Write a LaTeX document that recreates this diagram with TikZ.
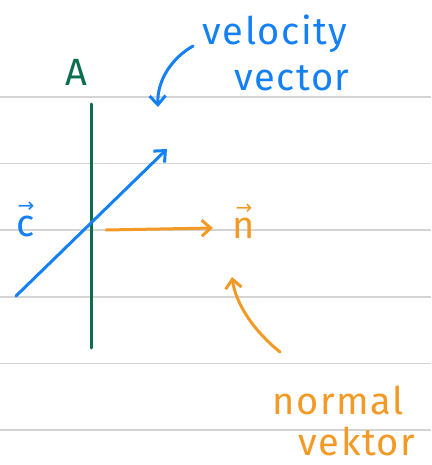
\documentclass[tikz,border=0pt]{standalone}
\usepackage{amsmath}
\usepackage{fontspec}
\setmainfont{Fira Sans}
\newfontfamily\handfont[LetterSpace=4]{Fira Sans}
\newfontfamily\arrowfont{DejaVu Sans}
\usepackage{tikz}
\usetikzlibrary{arrows.meta, positioning, calc}
\definecolor{InkBlue}{HTML}{1480F5}
\definecolor{InkGreen}{HTML}{0B6E4F}
\definecolor{InkOrange}{HTML}{F39A26}
\definecolor{RuleGray}{HTML}{D4D4D4}

% letter with a small arrow on top
\newcommand{\arrowover}[1]{\ooalign{#1\cr\hidewidth\raisebox{0.62em}{\arrowfont\fontsize{20}{20}\selectfont →}\hidewidth\cr}}

\tikzset{
    ink/.style={line width=3pt, line cap=round, line join=round},
    barb/.style={-{Straight Barb[length=9pt, width=16pt, line width=3pt]}},
    scrawl/.style={font=\handfont\fontsize{38}{40}\selectfont, inner sep=0pt}
}

\begin{document}
\begin{tikzpicture}[x=1pt, y=-1pt]
        \useasboundingbox (0,0) rectangle (431,465);

        % Ruled paper
        \foreach \y in {97, 163.5, 230, 297, 363.5, 430} {
            \draw[RuleGray, line width=1.2pt] (0,\y) -- (431,\y);
        }

        % Plane A
        \coordinate (planetop) at (91,104);
        \coordinate (planebot) at (91,348);
        \draw[ink, InkGreen] (planetop) -- (planebot);
        \node[scrawl, InkGreen] (planelabel) at (76,72) {A};

        % Velocity vector
        \coordinate (ctail) at (16,296);
        \coordinate (chead) at (167,149);
        \draw[ink, InkBlue, barb] (ctail) -- (chead);
        \node[scrawl, InkBlue] (clabel) at (26,226) {\arrowover{c}};

        % Normal vector
        \coordinate (ntail) at (106,230);
        \coordinate (nhead) at (213,228);
        \draw[ink, InkOrange, barb] (ntail) -- (nhead);
        \node[scrawl, InkOrange] (nlabel) at (244,228) {\arrowover{n}};

        % Labels
        \node[scrawl, InkBlue] (veltext) at (275,34) {velocity};
        \node[scrawl, InkBlue, below=12pt of veltext.south, xshift=17pt] (veltext2) {vector};
        \coordinate (velstart) at (193,46);
        \coordinate (veltip) at (158,107);
        \draw[ink, InkBlue, barb] (velstart) .. controls (172,58) and (157,80) .. (veltip);

        \node[scrawl, InkOrange] (normtext) at (338,400) {normal};
        \node[scrawl, InkOrange, below=12pt of normtext.south, xshift=19pt] (normtext2) {vektor};
        \coordinate (normstart) at (280,352);
        \coordinate (normtip) at (232,277);
        \draw[ink, InkOrange, barb] (normstart) .. controls (255,332) and (236,305) .. (normtip);

    \end{tikzpicture}
\end{document}
